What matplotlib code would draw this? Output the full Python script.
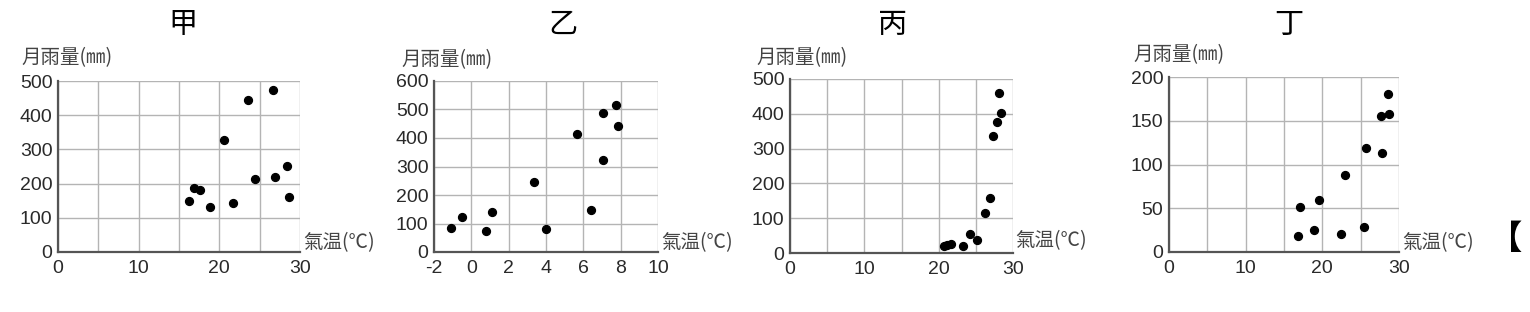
import matplotlib
matplotlib.use('Agg')
import matplotlib.pyplot as plt

plt.rcParams['font.family'] = ['Liberation Sans', 'Noto Sans CJK TC', 'DejaVu Sans']
plt.rcParams['axes.unicode_minus'] = False

# panel names
titles = ['甲', '乙', '丙', '丁']

# temperature (°C) and monthly rainfall (mm) per panel
jia_temp = [16.3, 16.9, 17.6, 18.9, 20.6, 21.7, 23.6, 24.4, 26.6, 26.9, 28.4, 28.6]
jia_rain = [149, 188, 180, 132, 328, 142, 444, 214, 473, 218, 252, 160]

yi_temp = [-1.1, -0.5, 0.8, 1.1, 3.35, 4.0, 5.65, 6.4, 7.05, 7.05, 7.75, 7.85]
yi_rain = [85, 122, 73, 142, 246, 81, 414, 147, 488, 322, 517, 442]

bing_temp = [20.7, 21.1, 21.6, 23.3, 24.2, 25.2, 26.3, 26.9, 27.3, 27.8, 28.1, 28.4]
bing_rain = [19, 24, 27, 19, 56, 38, 116, 159, 335, 376, 460, 403]

ding_temp = [16.8, 17.1, 18.9, 19.5, 22.4, 23.0, 25.4, 25.7, 27.6, 27.8, 28.6, 28.7]
ding_rain = [18, 51, 25, 60, 21, 88, 29, 119, 155, 113, 181, 158]

temps = [jia_temp, yi_temp, bing_temp, ding_temp]
rains = [jia_rain, yi_rain, bing_rain, ding_rain]

x_ranges = [(0, 30), (-2, 10), (0, 30), (0, 30)]
x_grid = [[0, 5, 10, 15, 20, 25, 30], [-2, 0, 2, 4, 6, 8, 10],
          [0, 5, 10, 15, 20, 25, 30], [0, 5, 10, 15, 20, 25, 30]]
x_ticks = [[0, 10, 20, 30], [-2, 0, 2, 4, 6, 8, 10], [0, 10, 20, 30], [0, 10, 20, 30]]
y_ranges = [(0, 500), (0, 600), (0, 500), (0, 200)]
y_ticks = [[0, 100, 200, 300, 400, 500], [0, 100, 200, 300, 400, 500, 600],
           [0, 100, 200, 300, 400, 500], [0, 50, 100, 150, 200]]

W, H = 1530, 312
fig = plt.figure(figsize=(W / 100, H / 100), dpi=100)
cjk = ['Noto Sans CJK TC', 'DejaVu Sans']

# axes boxes in pixels: left, top, right, bottom
boxes = [(58, 81, 300, 252), (434, 81, 658, 252), (790, 79, 1013, 253), (1169, 77, 1399, 252)]
title_x = [183, 563, 893, 1289]
ylab_pos = [(21, 58), (401, 60), (756, 58), (1133, 55)]
xlab_pos = [(303, 243), (661, 243), (1015, 241), (1402, 243)]

for i in range(4):
    l, t, r, b = boxes[i]
    ax = fig.add_axes([l / W, 1 - b / H, (r - l) / W, (b - t) / H])
    ax.set_xlim(*x_ranges[i])
    ax.set_ylim(*y_ranges[i])
    for gx in x_grid[i]:
        ax.axvline(gx, color='#b4b4b4', lw=1.0, zorder=1)
    for gy in y_ticks[i]:
        ax.axhline(gy, color='#b4b4b4', lw=1.0, zorder=1)
    ax.scatter(temps[i], rains[i], s=32, color='black', zorder=3)
    ax.set_xticks(x_ticks[i])
    ax.set_yticks(y_ticks[i])
    ax.tick_params(axis='y', length=0, labelsize=14, labelcolor='#2a2a2a', pad=4)
    ax.tick_params(axis='x', length=0, labelsize=14, labelcolor='#2a2a2a', pad=6)
    for s in ['top', 'right']:
        ax.spines[s].set_visible(False)
    for s in ['left', 'bottom']:
        ax.spines[s].set_color('#555555')
        ax.spines[s].set_linewidth(1.6)
        ax.spines[s].set_zorder(2)

    fig.text(title_x[i] / W, 1 - 25 / H, titles[i], fontsize=21, ha='center', va='center',
             family=cjk, fontweight='light')
    fig.text(ylab_pos[i][0] / W, 1 - ylab_pos[i][1] / H, '月雨量(㎜)', fontsize=14,
             ha='left', va='center', color='#444444', family=cjk)
    fig.text(xlab_pos[i][0] / W, 1 - xlab_pos[i][1] / H, '氣温(℃)', fontsize=14,
             ha='left', va='center', color='#444444', family=cjk)

fig.text(1489 / W, 1 - 240 / H, '【', fontsize=24, ha='left', va='center', fontweight='bold',
         family=cjk)

fig.savefig('out.png', dpi=100)
